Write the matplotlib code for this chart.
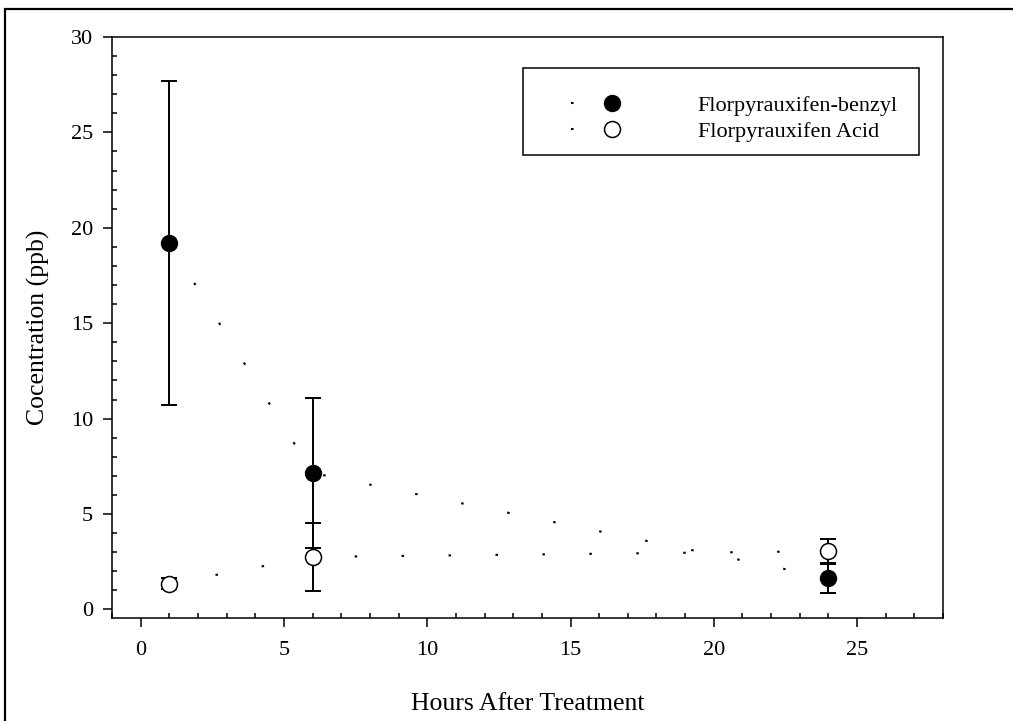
import matplotlib
matplotlib.use("Agg")
import matplotlib.pyplot as plt
from matplotlib.patches import Rectangle
from matplotlib.ticker import MultipleLocator

# data
hours = [1, 6, 24]
benzyl = [19.2, 7.15, 1.65]
benzyl_err = [8.5, 3.95, 0.8]
acid = [1.35, 2.75, 3.05]
acid_err = [0.3, 1.8, 0.65]

plt.rcParams['font.family'] = ['Liberation Serif', 'DejaVu Serif']
plt.rcParams['lines.scale_dashes'] = False

fig = plt.figure(figsize=(10.13, 7.21), dpi=100)
ax = fig.add_axes([0.1106, 0.1429, 0.8203, 0.8058])

# figure frame (cut off at right and bottom like the source image)
fig.add_artist(Rectangle((0.0045, -0.1), 1.2, 1.1 - 9 / 721, transform=fig.transFigure,
                         fill=False, lw=1.6, color='black'))

dots = (0, (1.8, 32))
ax.errorbar(hours, benzyl, yerr=benzyl_err, fmt='none', ecolor='black',
            elinewidth=1.4, capsize=6, capthick=1.4, zorder=2)
ax.errorbar(hours, acid, yerr=acid_err, fmt='none', ecolor='black',
            elinewidth=1.4, capsize=6, capthick=1.4, zorder=2)
ax.plot(hours, benzyl, color='black', lw=1.5, linestyle=dots, marker='o',
        markersize=11.5, markerfacecolor='black', markeredgecolor='black',
        label='Florpyrauxifen-benzyl', zorder=3)
ax.plot(hours, acid, color='black', lw=1.5, linestyle=dots, marker='o',
        markersize=11.5, markerfacecolor='white', markeredgecolor='black',
        markeredgewidth=1.1, label='Florpyrauxifen Acid', zorder=3)

ax.set_xlim(-1, 28)
ax.set_ylim(-0.45, 30)
ax.xaxis.set_minor_locator(MultipleLocator(1))
ax.yaxis.set_major_locator(MultipleLocator(5))
ax.yaxis.set_minor_locator(MultipleLocator(1))
ax.set_xticks(range(0, 26, 5))
ax.tick_params(which='major', direction='out', length=6.5, width=1.1,
               labelsize=16, pad=10)
ax.tick_params(which='minor', direction='in', length=3.6, width=1.1)
ax.tick_params(axis='y', which='major', pad=7)
for s in ax.spines.values():
    s.set_linewidth(1.1)

ax.set_xlabel('Hours After Treatment', fontsize=18.5, labelpad=24)
ax.set_ylabel('Cocentration (ppb)', fontsize=18.5, labelpad=15.5)

# legend frame drawn separately so its size matches the source
ax.add_patch(Rectangle((0.4946, 0.7969), 0.4765, 0.1497, transform=ax.transAxes,
                       fill=False, lw=1.1, color='black', zorder=5))
ax.legend(loc='upper left', bbox_to_anchor=(0.5523, 0.8999), fontsize=16,
          handlelength=3.7, handletextpad=2.0, borderpad=0,
          labelspacing=0.25, frameon=False, borderaxespad=0)

fig.savefig('out.png', dpi=100)
